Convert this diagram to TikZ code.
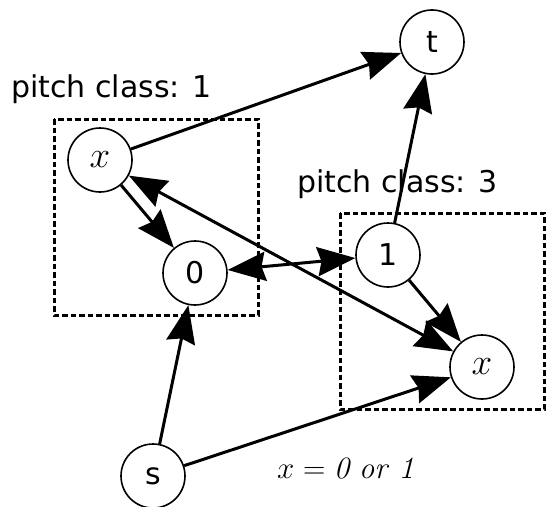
\RequirePackage{fix-cm}
\documentclass[tikz,border=0pt]{standalone}
\usepackage{fontspec}
\newfontfamily\labelfont{DejaVu Sans}
\usetikzlibrary{arrows.meta}
\begin{document}
\begin{tikzpicture}[x=1pt,y=-1pt,
  vtx/.style={draw,circle,line width=1.6pt,minimum size=64pt,inner sep=0pt,
    font=\labelfont\fontsize{30}{30}\selectfont},
  varvtx/.style={vtx,font=\fontsize{37}{37}\selectfont},
  edge/.style={line width=3pt,-{Stealth[length=38pt,width=29pt,inset=4pt]}},
  biedge/.style={line width=3pt,{Stealth[length=38pt,width=29pt,inset=4pt]}-{Stealth[length=38pt,width=29pt,inset=4pt]}},
  groupbox/.style={draw,line width=3pt,dash pattern=on 5.5pt off 3pt},
  caption/.style={font=\labelfont\fontsize{30}{30}\selectfont,anchor=base west,inner sep=0pt}]
\useasboundingbox (0,0) rectangle (546,506);
\fill[white] (0,0) rectangle (546,506);

% pitch-class groups
\draw[groupbox] (54,119) rectangle (258,315);
\draw[groupbox] (340,213) rectangle (544,409);
\node[caption] (pc1) at (11,97) {pitch class: 1};
\node[caption] (pc3) at (297,192) {pitch class: 3};

% vertices
\node[varvtx] (x1) at (100,160) {$x$};
\node[vtx] (z) at (195,273) {0};
\node[vtx] (o) at (388,255) {1};
\node[vtx] (t) at (432,42) {t};
\node[varvtx] (x3) at (482,367) {$x$};
\node[vtx] (s) at (153,476) {s};

% edges
\draw[edge] (x1) -- (t);
\draw[edge] (o) -- (t);
\draw[edge] (x1) -- (z);
\draw[biedge] (x1) -- (x3);
\draw[biedge] (z) -- (o);
\draw[edge] (o) -- (x3);
\draw[edge] (s) -- (z);
\draw[edge] (s) -- (x3);

\node[anchor=base west,inner sep=0pt,font=\fontsize{31}{31}\selectfont] (note) at (277,478)
  {$x = \mathit{0}$ \textit{or} $\mathit{1}$};
\end{tikzpicture}
\end{document}
